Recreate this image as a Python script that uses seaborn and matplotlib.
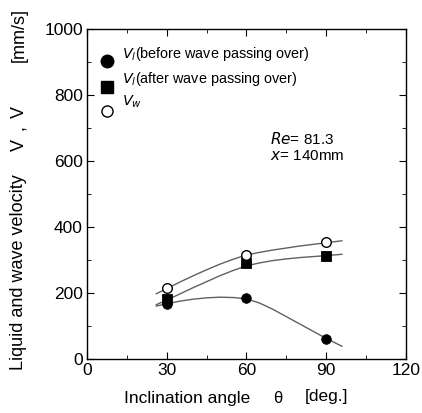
# Liquid and wave velocity vs inclination angle
import pandas as pd
import matplotlib
matplotlib.use("Agg")
import matplotlib.pyplot as plt
import seaborn as sns
from matplotlib.ticker import MultipleLocator

angle = [30, 60, 90]
vl_before = [165, 185, 60]
vl_after = [180, 290, 312]
vw = [215, 315, 355]

# fitted curves as drawn in the picture (read at these angles)
fit_angle = [26, 30, 35, 40, 45, 50, 55, 60, 65, 70, 75, 80, 85, 90, 96]
fit_before = [160, 167, 175, 181, 185, 187, 186, 182, 169, 150, 128, 106, 84, 62, 38]
fit_after = [164, 178, 197, 216, 234, 252, 268, 282, 291, 298, 303, 307, 310, 313, 317]
fit_vw = [197, 213, 233, 252, 270, 287, 302, 315, 323, 330, 336, 342, 347, 352, 358]

sns.set_style("ticks", {"axes.edgecolor": "black", "xtick.color": "black",
                        "ytick.color": "black", "text.color": "black"})
plt.rcParams['font.family'] = ['Liberation Sans', 'DejaVu Sans']

fig = plt.figure(figsize=(4.22, 4.13), dpi=100)
ax = fig.add_axes([0.206, 0.131, 0.756, 0.799])

fits = pd.DataFrame({"x": fit_angle, "before": fit_before, "after": fit_after, "vw": fit_vw})
for col in ["before", "after", "vw"]:
    sns.lineplot(data=fits, x="x", y=col, ax=ax, color="#606060", lw=1.0)

df = pd.DataFrame({"angle": angle, "before": vl_before, "after": vl_after, "vw": vw})
sns.scatterplot(data=df, x="angle", y="before", ax=ax, marker="o", s=48,
                color="black", edgecolor="black", zorder=3)
sns.scatterplot(data=df, x="angle", y="after", ax=ax, marker="s", s=58,
                color="black", edgecolor="black", zorder=3)
sns.scatterplot(data=df, x="angle", y="vw", ax=ax, marker="o", s=48,
                facecolor="white", edgecolor="black", linewidth=1, zorder=4)

ax.set_xlim(0, 120)
ax.set_ylim(0, 1000)
ax.xaxis.set_major_locator(MultipleLocator(30))
ax.xaxis.set_minor_locator(MultipleLocator(15))
ax.yaxis.set_major_locator(MultipleLocator(200))
ax.yaxis.set_minor_locator(MultipleLocator(100))
ax.tick_params(which="both", direction="in", top=True, right=True, labelsize=12.5,
               pad=3, colors="black")
ax.tick_params(which="major", length=5)
ax.tick_params(which="minor", length=3)
for sp in ax.spines.values():
    sp.set_linewidth(1.0)
    sp.set_color("black")
ax.set_xlabel("")
ax.set_ylabel("")

# manual legend
tr = ax.transAxes
ax.plot([0.063], [0.902], transform=tr, marker="o", ms=9, color="black", ls="none", clip_on=False)
ax.plot([0.063], [0.823], transform=tr, marker="s", ms=8, color="black", ls="none", clip_on=False)
ax.plot([0.063], [0.752], transform=tr, marker="o", ms=8, mfc="white", mec="black", mew=1, ls="none", clip_on=False)
ax.text(0.11, 0.925, r"$V_l$(before wave passing over)", transform=tr, fontsize=10.4, va="center")
ax.text(0.11, 0.848, r"$V_l$(after wave passing over)", transform=tr, fontsize=10.4, va="center")
ax.text(0.11, 0.778, r"$V_w$", transform=tr, fontsize=10.4, va="center")

ax.text(0.575, 0.665, r"$Re$= 81.3", transform=tr, fontsize=11, va="center")
ax.text(0.575, 0.615, r"$x$= 140mm", transform=tr, fontsize=11, va="center")

# axis titles, placed piece by piece
fig.text(0.294, 0.036, "Inclination angle", ha="left", va="center", fontsize=12.5)
fig.text(0.659, 0.036, "θ", ha="center", va="center", fontsize=12)
fig.text(0.723, 0.040, "[deg.]", ha="left", va="center", fontsize=12.5)

fig.text(0.045, 1 - 370 / 413, "Liquid and wave velocity", rotation=90,
         ha="center", va="bottom", fontsize=13)
fig.text(0.045, 1 - 145 / 413, "V", rotation=90, ha="center", va="center", fontsize=13)
fig.text(0.045, 1 - 128 / 413, ",", rotation=90, ha="center", va="center", fontsize=13)
fig.text(0.045, 1 - 112 / 413, "V", rotation=90, ha="center", va="center", fontsize=13)
fig.text(0.045, 1 - 8 / 413, "[mm/s]", rotation=90, ha="center", va="top", fontsize=13)

fig.savefig("out.png", dpi=100)
